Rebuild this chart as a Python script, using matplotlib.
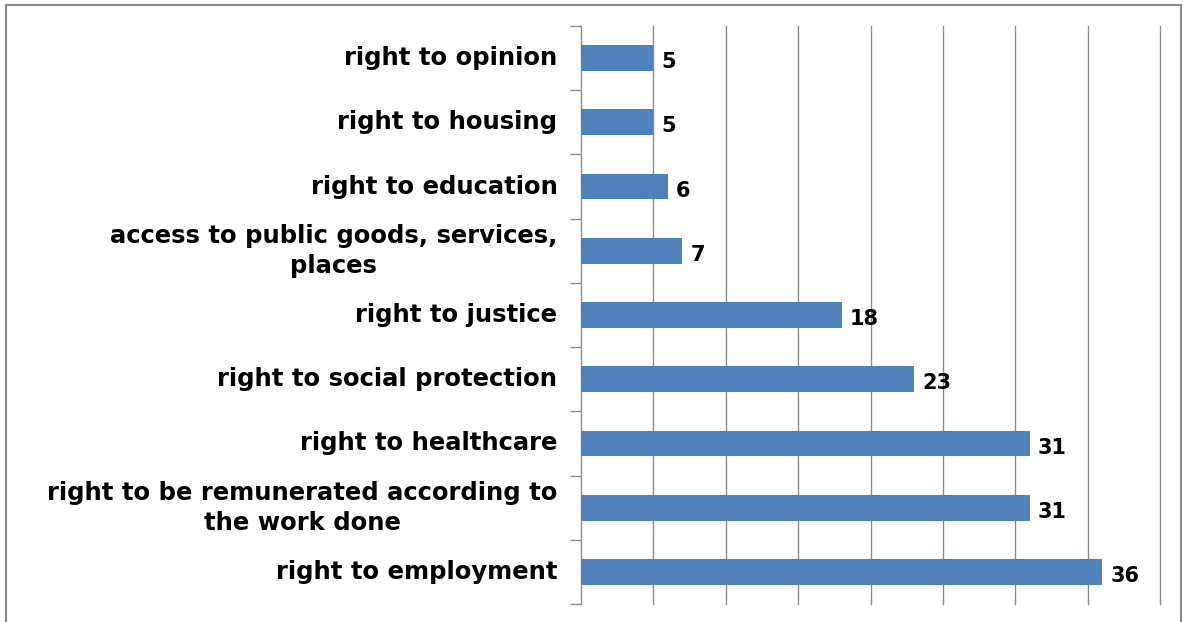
import matplotlib
matplotlib.use("Agg")
import matplotlib.pyplot as plt
from matplotlib.patches import Rectangle
import numpy as np

categories = [
    "right to opinion",
    "right to housing",
    "right to education",
    "access to public goods, services,\nplaces",
    "right to justice",
    "right to social protection",
    "right to healthcare",
    "right to be remunerated according to\nthe work done",
    "right to employment",
]
values = [5, 5, 6, 7, 18, 23, 31, 31, 36]
value_labels = ["5", "5", "6", "7", "18", "23", "31", "31", "36"]

BAR = "#4F81BD"
GRID = "#8C8C8C"

fig = plt.figure(figsize=(11.83, 6.22), dpi=100)
ax = fig.add_axes([581 / 1183, 1 - 604 / 622, (1160 - 581) / 1183, (604 - 26) / 622])

y = np.arange(len(categories))
ax.barh(y, values, height=0.4, color=BAR, zorder=3)

ax.set_xlim(0, 40)
ax.set_ylim(len(categories) - 0.5, -0.5)

ax.set_xticks(np.arange(5, 41, 5))
ax.tick_params(axis="x", length=0, labelbottom=False)
ax.grid(axis="x", color=GRID, linewidth=1.0, zorder=0)
for gl in ax.get_xgridlines():
    gl.set_clip_on(False)

ax.set_yticks(y)
ax.set_yticklabels(categories, fontsize=17.5, fontweight="bold",
                   family="DejaVu Sans", multialignment="center",
                   linespacing=1.32, va="center")
ax.tick_params(axis="y", which="major", length=0, pad=17)
ax.set_yticks(np.arange(-0.5, len(categories), 1.0), minor=True)
ax.tick_params(axis="y", which="minor", length=8, color=GRID, width=1)

for s in ["top", "right", "bottom"]:
    ax.spines[s].set_visible(False)
ax.spines["left"].set_color(GRID)
ax.spines["left"].set_linewidth(1.0)

for yi, v, lab in zip(y, values, value_labels):
    ax.annotate(lab, xy=(v, yi), xytext=(6, -3), textcoords="offset points",
                ha="left", va="center", fontsize=15, fontweight="bold",
                family="DejaVu Sans", color="black", zorder=4)

fig.patches.append(Rectangle((6 / 1183, -0.01), (1181 - 6) / 1183, 1.01 - 5 / 622,
                             transform=fig.transFigure, fill=False,
                             edgecolor="#8A8A8A", linewidth=1.5))

fig.savefig("out.png", dpi=100)
